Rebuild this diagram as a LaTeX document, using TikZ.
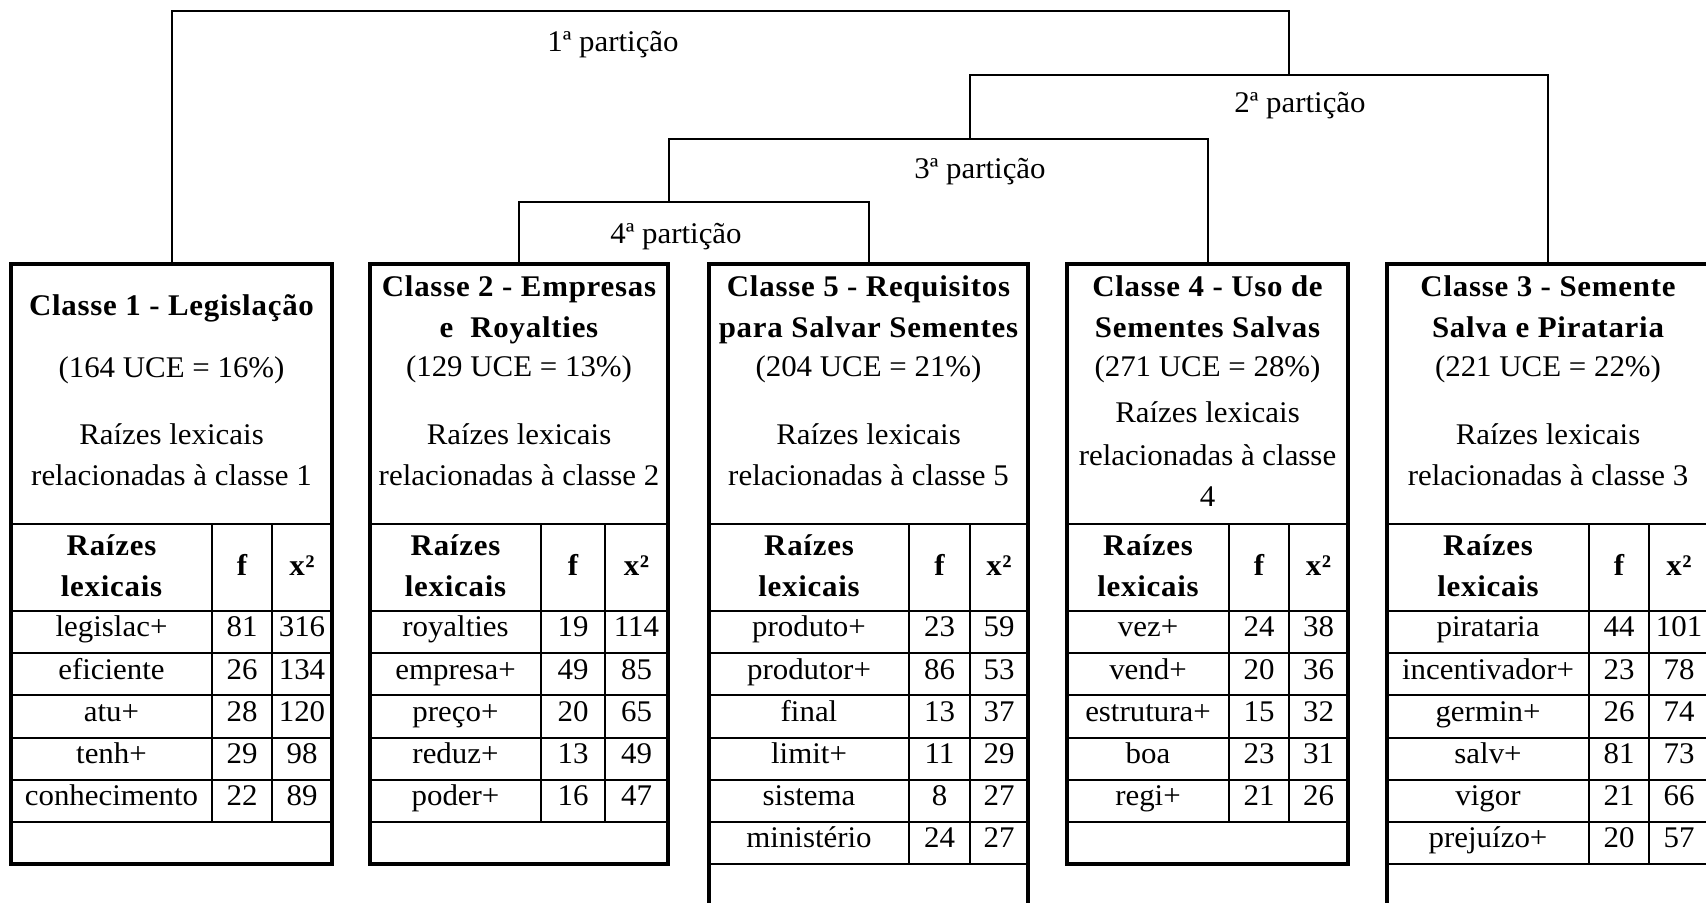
\documentclass[tikz,border=0pt]{standalone}
\usepackage{fontspec}
\setmainfont{Liberation Serif}[FakeStretch=1.03, BoldFeatures={LetterSpace=2.5}]
\newcommand\fs{\fontsize{15pt}{18pt}\selectfont}
\tikzset{
 txt/.style={inner sep=0, outer sep=0, font=\fs, text height=0.68em, text depth=0.2em},
 btxt/.style={txt, font=\fs\bfseries},
 box/.style={draw, line width=2pt, inner sep=0, outer sep=0, anchor=north west},
 grid/.style={line width=1pt},
 conn/.style={line width=1pt},
}
% #1 left, #2 right, #3 col sep 1, #4 col sep 2, #5 number of data rows
\newcommand\grd[5]{%
  \draw[grid] (#1,524) -- (#2,524);
  \foreach \i in {0,...,#5} \draw[grid] (#1,{611+42.2*\i}) -- (#2,{611+42.2*\i});
  \draw[grid] (#3,524) -- (#3,{611+42.2*#5});
  \draw[grid] (#4,524) -- (#4,{611+42.2*#5});
}
\newcommand\hdr[4]{%
  \node[btxt] (#1h1) at (#2,551) {Raízes};
  \node[btxt] (#1h2) at (#2,592) {lexicais};
  \node[btxt] (#1h3) at (#3,571) {f};
  \node[btxt] (#1h4) at (#4,571) {x²};
}
\begin{document}
\begin{tikzpicture}[x=0.5pt,y=-0.5pt]
\useasboundingbox (0,0) rectangle (1706,902);
\clip (0,0) rectangle (1706,902);
\fill[white] (0,0) rectangle (1706,902);

% ---------- grids ----------
\grd{11}{332}{212}{272}{5}
\grd{370}{668}{541}{605}{5}
\grd{709}{1028}{909}{970}{6}
\grd{1067}{1348}{1229}{1289}{5}
\grd{1387}{1709}{1589}{1649}{6}

% ---------- boxes ----------
\node[box, minimum width=160.5pt, minimum height=300pt] (b1) at (11,264) {};
\node[box, minimum width=149pt, minimum height=300pt] (b2) at (370,264) {};
\node[box, minimum width=159.5pt, minimum height=345pt] (b5) at (709,264) {};
\node[box, minimum width=140.5pt, minimum height=300pt] (b4) at (1067,264) {};
\node[box, minimum width=161pt, minimum height=345pt] (b3) at (1387,264) {};

% ---------- box 1 ----------
\node[btxt] (b1t1) at (171.5,311) {Classe 1 - Legislação};
\node[txt] (b1t2) at (171.5,373) {(164 UCE = 16\%)};
\node[txt] (b1t3) at (171.5,440) {Raízes lexicais};
\node[txt] (b1t4) at (171.5,481) {relacionadas à classe 1};
\hdr{b1}{111.5}{242}{302}
\foreach \w/\f/\x [count=\i] in {legislac+/81/316, eficiente/26/134, atu+/28/120, tenh+/29/98, conhecimento/22/89}{
  \node[txt] (b1w\i) at (111.5,{589.8+42.2*\i}) {\w};
  \node[txt] (b1f\i) at (242,{589.8+42.2*\i}) {\f};
  \node[txt] (b1x\i) at (302,{589.8+42.2*\i}) {\x};
}

% ---------- box 2 ----------
\node[btxt] (b2t1) at (519,292) {Classe 2 - Empresas};
\node[btxt] (b2t0) at (519,333) {e~~Royalties};
\node[txt] (b2t2) at (519,372) {(129 UCE = 13\%)};
\node[txt] (b2t3) at (519,440) {Raízes lexicais};
\node[txt] (b2t4) at (519,481) {relacionadas à classe 2};
\hdr{b2}{455.5}{573}{636.5}
\foreach \w/\f/\x [count=\i] in {royalties/19/114, empresa+/49/85, preço+/20/65, reduz+/13/49, poder+/16/47}{
  \node[txt] (b2w\i) at (455.5,{589.8+42.2*\i}) {\w};
  \node[txt] (b2f\i) at (573,{589.8+42.2*\i}) {\f};
  \node[txt] (b2x\i) at (636.5,{589.8+42.2*\i}) {\x};
}

% ---------- box 5 ----------
\node[btxt] (b5t1) at (868.5,292) {Classe 5 - Requisitos};
\node[btxt] (b5t0) at (868.5,333) {para Salvar Sementes};
\node[txt] (b5t2) at (868.5,372) {(204 UCE = 21\%)};
\node[txt] (b5t3) at (868.5,440) {Raízes lexicais};
\node[txt] (b5t4) at (868.5,481) {relacionadas à classe 5};
\hdr{b5}{809}{939.5}{999}
\foreach \w/\f/\x [count=\i] in {produto+/23/59, produtor+/86/53, final/13/37, limit+/11/29, sistema/8/27, ministério/24/27}{
  \node[txt] (b5w\i) at (809,{589.8+42.2*\i}) {\w};
  \node[txt] (b5f\i) at (939.5,{589.8+42.2*\i}) {\f};
  \node[txt] (b5x\i) at (999,{589.8+42.2*\i}) {\x};
}

% ---------- box 4 ----------
\node[btxt] (b4t1) at (1207.5,292) {Classe 4 - Uso de};
\node[btxt] (b4t0) at (1207.5,333) {Sementes Salvas};
\node[txt] (b4t2) at (1207.5,372) {(271 UCE = 28\%)};
\node[txt] (b4t3) at (1207.5,418) {Raízes lexicais};
\node[txt] (b4t4) at (1207.5,461) {relacionadas à classe};
\node[txt] (b4t5) at (1207.5,502) {4};
\hdr{b4}{1148}{1259}{1318.5}
\foreach \w/\f/\x [count=\i] in {vez+/24/38, vend+/20/36, estrutura+/15/32, boa/23/31, regi+/21/26}{
  \node[txt] (b4w\i) at (1148,{589.8+42.2*\i}) {\w};
  \node[txt] (b4f\i) at (1259,{589.8+42.2*\i}) {\f};
  \node[txt] (b4x\i) at (1318.5,{589.8+42.2*\i}) {\x};
}

% ---------- box 3 ----------
\node[btxt] (b3t1) at (1548,292) {Classe 3 - Semente};
\node[btxt] (b3t0) at (1548,333) {Salva e Pirataria};
\node[txt] (b3t2) at (1548,372) {(221 UCE = 22\%)};
\node[txt] (b3t3) at (1548,440) {Raízes lexicais};
\node[txt] (b3t4) at (1548,481) {relacionadas à classe 3};
\hdr{b3}{1488}{1619}{1679}
\foreach \w/\f/\x [count=\i] in {pirataria/44/101, incentivador+/23/78, germin+/26/74, salv+/81/73, vigor/21/66, prejuízo+/20/57}{
  \node[txt] (b3w\i) at (1488,{589.8+42.2*\i}) {\w};
  \node[txt] (b3f\i) at (1619,{589.8+42.2*\i}) {\f};
  \node[txt] (b3x\i) at (1679,{589.8+42.2*\i}) {\x};
}

% ---------- dendrogram ----------
\coordinate (k4) at (669,202);
\coordinate (k3) at (970,139);
\coordinate (k2) at (1289,75);
\coordinate (k1) at (700,11);
\draw[conn] (b2.north) |- (k4) -| (b5.north);
\draw[conn] (k4) |- (k3) -| (b4.north);
\draw[conn] (k3) |- (k2) -| (b3.north);
\draw[conn] (b1.north) |- (k1) -| (k2);

\node[txt] (l1) at (613,47) {1ª partição};
\node[txt] (l2) at (1300,108) {2ª partição};
\node[txt] (l3) at (980,174) {3ª partição};
\node[txt] (l4) at (676,239) {4ª partição};
\end{tikzpicture}
\end{document}
